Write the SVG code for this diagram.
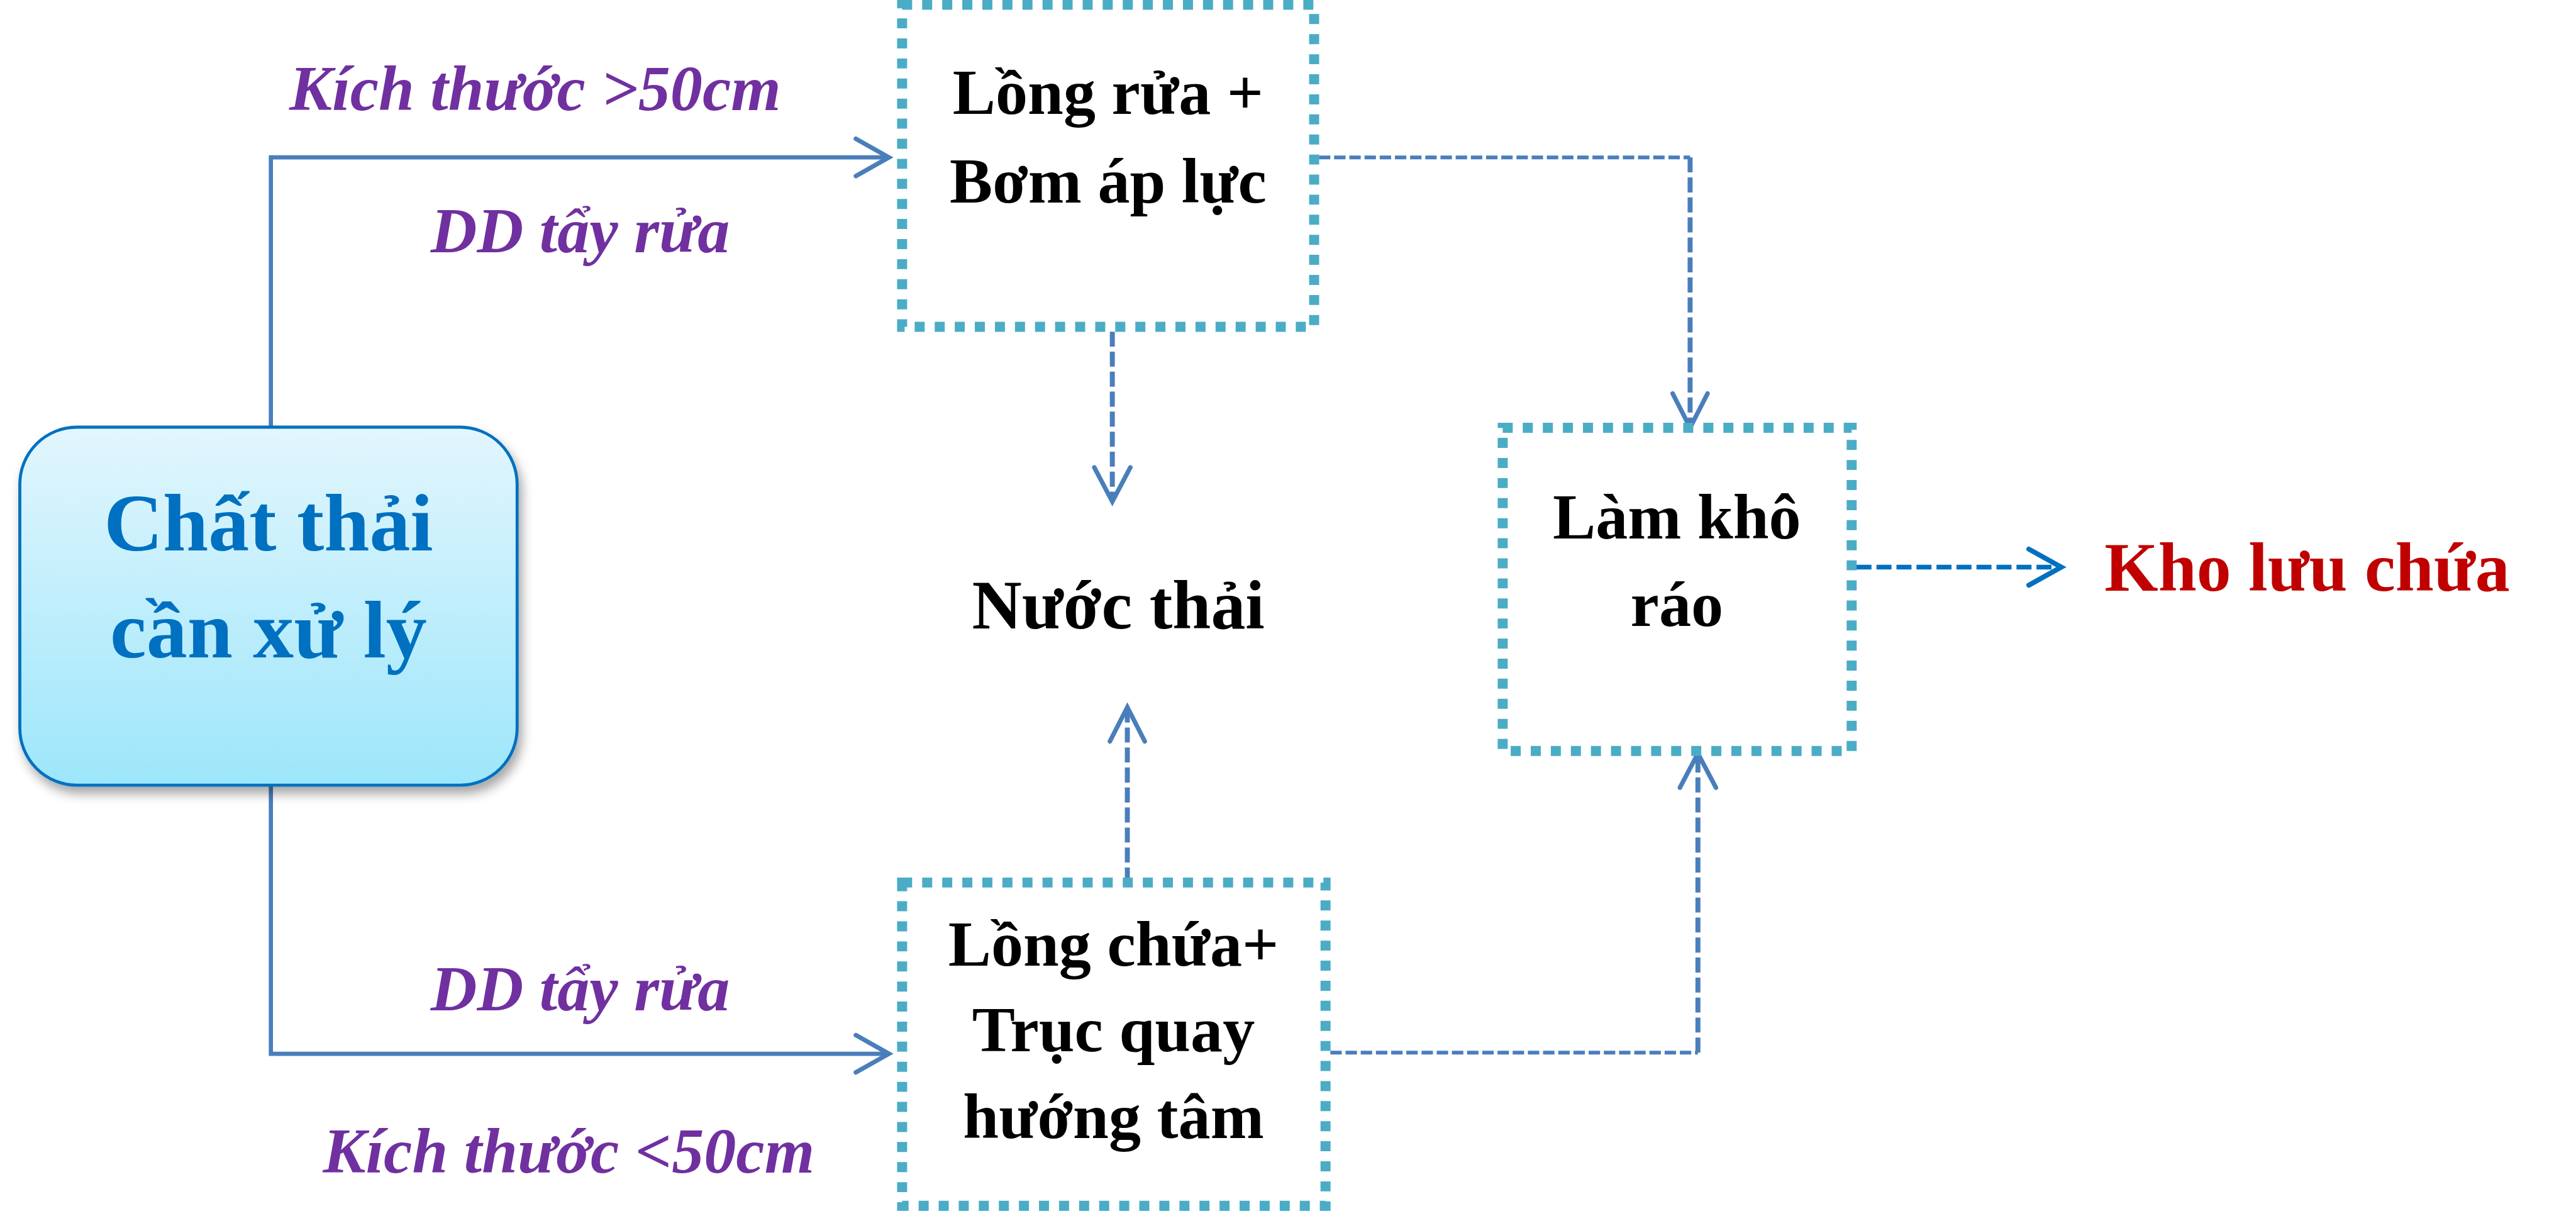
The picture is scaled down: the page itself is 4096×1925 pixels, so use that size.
<svg xmlns="http://www.w3.org/2000/svg" width="4096" height="1925" viewBox="0 0 4096 1925">
<defs>
<linearGradient id="gBlue" x1="0" y1="0" x2="0" y2="1">
<stop offset="0" stop-color="#e2f6fd"/>
<stop offset="1" stop-color="#9de6fb"/>
</linearGradient>
<filter id="shadow" x="-10%" y="-10%" width="130%" height="130%">
<feDropShadow dx="6" dy="12" stdDeviation="9" flood-color="#000" flood-opacity="0.35"/>
</filter>
<style>
.t{font-family:"Liberation Serif","Times New Roman",serif;font-weight:bold;text-anchor:middle}
.blk{fill:#000;font-size:107px}
.lbl{fill:#7030a0;font-style:italic;font-size:107px}
.dot{fill:none;stroke:#4bacc6;stroke-width:16.7;stroke-dasharray:16.7 16.7}
.solid{fill:none;stroke:#4a7ebb;stroke-width:7}
.dh{fill:none;stroke:#4a7ebb;stroke-width:6.3;stroke-dasharray:19 6.3}
.dv{fill:none;stroke:#4a7ebb;stroke-width:8.3;stroke-dasharray:25 8.3}
.ah{fill:none;stroke:#4a7ebb;stroke-width:7.5;stroke-linecap:round;stroke-linejoin:miter}
</style>
</defs>
<rect width="4096" height="1925" fill="#fff"/>
<g transform="scale(0.955)">
<g id="connectors">
<path class="solid" d="M451,711 V262 H1474"/>
<polyline class="ah" points="1425,231 1480,262 1425,293"/>
<path class="solid" d="M451,1307 V1754 H1474"/>
<polyline class="ah" points="1425,1723 1480,1754 1425,1785"/>
<path class="dv" d="M1852,552 V832"/>
<polyline class="ah" points="1822,778 1852,835 1882,778"/>
<path class="dv" d="M1877,1469 V1180"/>
<polyline class="ah" points="1848,1234 1877,1177 1906,1234"/>
<path class="dh" d="M2196,262 H2814"/>
<path class="dv" d="M2814,262 V708"/>
<polyline class="ah" points="2785,655 2814,712 2843,655"/>
<path class="dh" d="M2215,1752 H2827"/>
<path class="dv" d="M2827,1752 V1258"/>
<polyline class="ah" points="2797,1311 2827,1254 2857,1311"/>
<path d="M3091,944 H3428" fill="none" stroke="#0070c0" stroke-width="8" stroke-dasharray="25 8.3"/>
<polyline points="3378,914 3432,944 3378,974" fill="none" stroke="#0070c0" stroke-width="8.3" stroke-linecap="round"/>
</g>
<g id="labels">
<text class="t lbl" x="891" y="183">Kích thước &gt;50cm</text>
<text class="t lbl" x="966" y="420">DD tẩy rửa</text>
<text class="t lbl" x="966" y="1682">DD tẩy rửa</text>
<text class="t lbl" x="947" y="1952">Kích thước &lt;50cm</text>
</g>
<g id="node-chat-thai">
<rect x="33" y="711" width="828" height="596" rx="95" ry="95" fill="url(#gBlue)" stroke="#0070c0" stroke-width="5" filter="url(#shadow)"/>
<text class="t" x="447" y="916" fill="#0070c0" font-size="136">Chất thải</text>
<text class="t" x="447" y="1094" fill="#0070c0" font-size="136">cần xử lý</text>
</g>
<g id="node-long-rua">
<rect class="dot" x="1502" y="8" width="686" height="536"/>
<text class="t blk" x="1845" y="190">Lồng rửa +</text>
<text class="t blk" x="1845" y="337">Bơm áp lực</text>
</g>
<g id="node-nuoc-thai">
<text class="t" x="1862" y="1046" font-size="115" fill="#000">Nước thải</text>
</g>
<g id="node-long-chua">
<rect class="dot" x="1502" y="1469" width="705" height="538"/>
<text class="t blk" x="1854" y="1607">Lồng chứa+</text>
<text class="t blk" x="1854" y="1750">Trục quay</text>
<text class="t blk" x="1854" y="1894">hướng tâm</text>
</g>
<g id="node-lam-kho">
<rect class="dot" x="2502" y="712" width="581" height="538"/>
<text class="t blk" x="2792" y="896">Làm khô</text>
<text class="t blk" x="2792" y="1042">ráo</text>
</g>
<g id="node-kho">
<text class="t" x="3504" y="983" font-size="115" fill="#c00000" style="text-anchor:start">Kho lưu chứa</text>
</g>
</g>
</svg>
